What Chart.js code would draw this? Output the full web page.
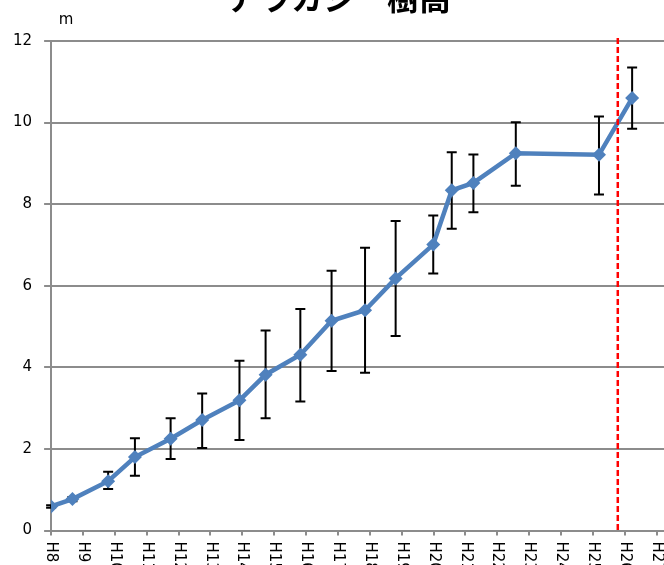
<!DOCTYPE html>
<html>
<head>
<meta charset="utf-8">
<script src="https://cdn.jsdelivr.net/npm/chart.js@4/dist/chart.umd.min.js"></script>
<style>
  html, body { margin: 0; padding: 0; background: #fff; overflow: hidden; }
  #wrap { position: relative; width: 664px; height: 565px; }
  canvas { display: block; }
</style>
</head>
<body>
<div id="wrap"><canvas id="chart" width="664" height="565"></canvas></div>
<script>
// 年度 (H = 平成) を横軸の数値として
const years = [8.0, 8.67, 9.79, 10.63, 11.75, 12.74, 13.91, 14.73, 15.82, 16.80, 17.85, 18.81, 19.99, 20.57, 21.25, 22.58, 25.19, 26.23]
// 樹高の平均 (m)
const heights = [0.59, 0.77, 1.21, 1.80, 2.25, 2.71, 3.19, 3.82, 4.31, 5.14, 5.40, 6.18, 7.01, 8.34, 8.52, 9.25, 9.21, 10.60]
// 誤差範囲 上端・下端
const errHigh = [0.62, 0.82, 1.44, 2.26, 2.75, 3.36, 4.16, 4.90, 5.43, 6.37, 6.93, 7.59, 7.72, 9.27, 9.22, 10.01, 10.15, 11.35]
const errLow = [0.56, 0.72, 1.02, 1.34, 1.75, 2.02, 2.22, 2.75, 3.16, 3.91, 3.87, 4.77, 6.30, 7.40, 7.80, 8.45, 8.24, 9.85]
const tickYears = [8, 9, 10, 11, 12, 13, 14, 15, 16, 17, 18, 19, 20, 21, 22, 23, 24, 25, 26, 27]
const markerYear = 25.78 // 赤の点線

const chartTitle = "アラカシ　樹高"
const unitLabel = "m"

const FONT = "'DejaVu Sans', Verdana, sans-serif"

const points = years.map((x, i) => ({ x: x, y: heights[i] }))

const extras = {
    id: 'extras',
    beforeDatasetsDraw(chart) {
        const ctx = chart.ctx
        const xs = chart.scales.x
        const ys = chart.scales.y
        ctx.save()
        ctx.strokeStyle = '#000'
        ctx.lineWidth = 2
        years.forEach((yr, i) => {
            const px = xs.getPixelForValue(yr)
            const top = ys.getPixelForValue(errHigh[i])
            const bot = ys.getPixelForValue(errLow[i])
            ctx.beginPath()
            ctx.moveTo(px, top); ctx.lineTo(px, bot)
            ctx.moveTo(px - 5, top); ctx.lineTo(px + 5, top)
            ctx.moveTo(px - 5, bot); ctx.lineTo(px + 5, bot)
            ctx.stroke()
        })
        ctx.restore()
    },
    afterDatasetsDraw(chart) {
        const ctx = chart.ctx
        const xs = chart.scales.x
        const area = chart.chartArea
        // red dashed line
        const rx = xs.getPixelForValue(markerYear)
        ctx.save()
        ctx.strokeStyle = '#ff0000'
        ctx.lineWidth = 2.5
        ctx.setLineDash([6, 3])
        ctx.beginPath()
        ctx.moveTo(rx, area.top - 3)
        ctx.lineTo(rx, area.bottom)
        ctx.stroke()
        ctx.restore()
    },
    afterDraw(chart) {
        const ctx = chart.ctx
        const xs = chart.scales.x
        const area = chart.chartArea
        ctx.save()
        // x tick labels, reading top to bottom
        ctx.fillStyle = '#000'
        ctx.font = '15px ' + FONT
        ctx.textAlign = 'left'
        ctx.textBaseline = 'middle'
        tickYears.forEach(t => {
            const px = xs.getPixelForValue(t)
            ctx.save()
            ctx.translate(px, area.bottom + 11)
            ctx.rotate(Math.PI / 2)
            ctx.fillText('H' + t, 0, 0)
            ctx.restore()
        })
        // unit
        ctx.textAlign = 'center'
        ctx.textBaseline = 'alphabetic'
        ctx.fillText(unitLabel, 66, 24)
        // title (cut by the top edge like the original)
        ctx.font = "bold 32px 'Noto Sans CJK JP', sans-serif"
        ctx.fillText(chartTitle, 339, 10)
        ctx.restore()
    }
}

new Chart(document.getElementById('chart'), {
    type: 'line',
    data: {
        datasets: [{
            data: points,
            borderColor: '#4f81bd',
            backgroundColor: '#4f81bd',
            borderWidth: 4.5,
            pointStyle: 'rectRot',
            pointRadius: 7,
            pointBorderWidth: 0,
            tension: 0
        }]
    },
    options: {
        responsive: false,
        animation: false,
        maintainAspectRatio: false,
        layout: { autoPadding: false, padding: { top: 41, left: 0, right: 0, bottom: 0 } },
        plugins: {
            legend: { display: false },
            tooltip: { enabled: false }
        },
        scales: {
            x: {
                type: 'linear',
                min: 8,
                max: 27.23,
                afterBuildTicks: (scale) => {
                    scale.ticks = tickYears.map(v => ({ value: v }))
                },
                afterFit: (scale) => {
                    scale.height = 565 - 530.5
                    scale.paddingLeft = 0
                    scale.paddingRight = 0
                },
                ticks: { display: false },
                grid: {
                    drawOnChartArea: false,
                    drawTicks: true,
                    tickLength: 5,
                    color: '#8c8c8c',
                    lineWidth: 2
                },
                border: { display: true, color: '#8c8c8c', width: 2 }
            },
            y: {
                min: 0,
                max: 12,
                afterFit: (scale) => { scale.width = 51.1 },
                ticks: {
                    stepSize: 2,
                    color: '#000',
                    font: { family: FONT, size: 15 },
                    padding: 12
                },
                grid: {
                    color: '#8c8c8c',
                    lineWidth: 2,
                    tickLength: 7
                },
                border: { display: true, color: '#8c8c8c', width: 2 }
            }
        }
    },
    plugins: [extras]
})
</script>
</body>
</html>
